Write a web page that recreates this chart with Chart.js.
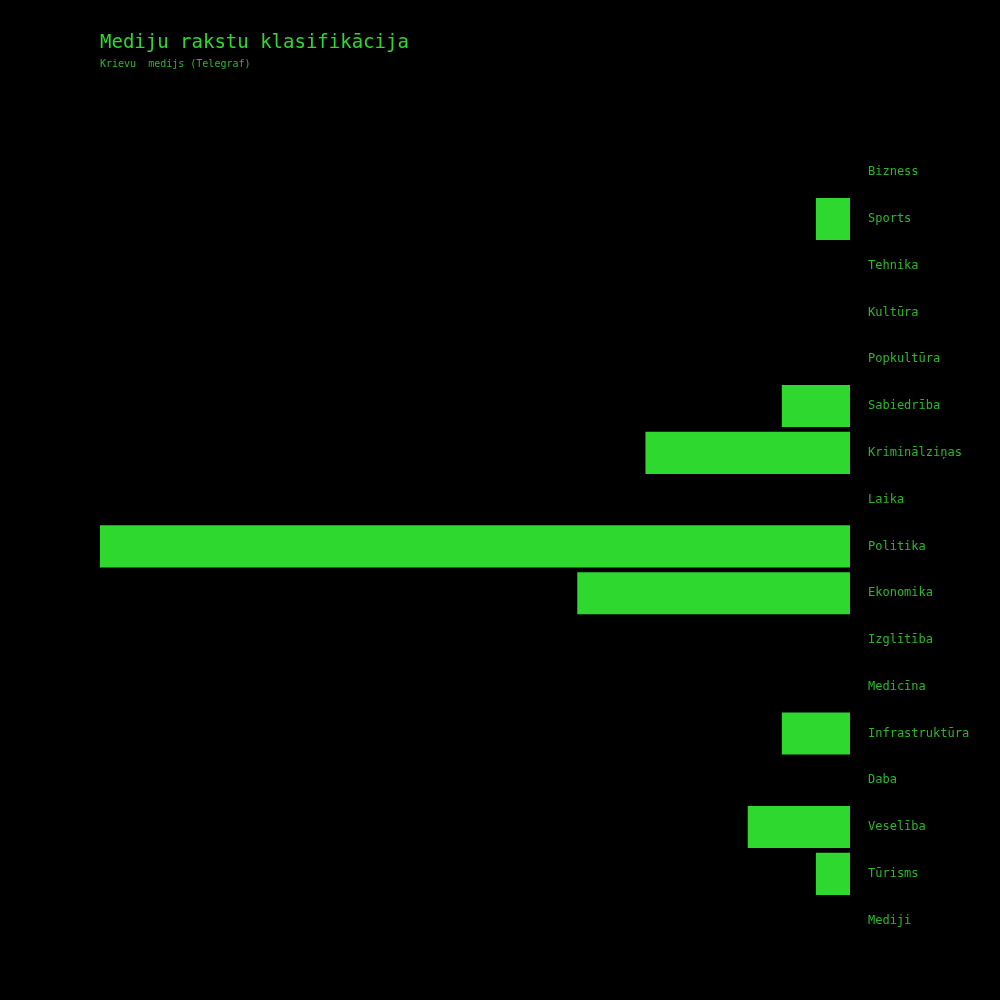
<!DOCTYPE html>
<html><head><meta charset="utf-8">
<script src="https://cdn.jsdelivr.net/npm/chart.js@4"></script>
<style>html,body{margin:0;background:#000}#wrap{width:1000px;height:1000px}</style>
</head><body><div id="wrap"><canvas id="c"></canvas></div>
<script>
const categories = ["Bizness","Sports","Tehnika","Kultūra","Popkultūra","Sabiedrība","Kriminālziņas","Laika","Politika","Ekonomika","Izglītība","Medicīna","Infrastruktūra","Daba","Veselība","Tūrisms","Mediji"];
const counts = [0,1,0,0,0,2,6,0,22,8,0,0,2,0,3,1,0];

const green = '#2fd82f';
const font = "'DejaVu Sans Mono', monospace";

new Chart(document.getElementById('c'), {
  type: 'bar',
  data: { labels: categories, datasets: [{ data: counts, backgroundColor: green, barPercentage: 0.9, categoryPercentage: 1 }] },
  options: {
    indexAxis: 'y',
    responsive: true, maintainAspectRatio: false, animation: false,
    layout: { padding: { left: 100, top: 32, bottom: 56, right: 0 } },
    plugins: {
      legend: { display: false },
      tooltip: { enabled: false },
      title: { display: true, text: 'Mediju rakstu klasifikācija', align: 'start', color: green,
        font: { family: font, size: 19, weight: 'normal' }, padding: { top: 0, bottom: 0 } },
      subtitle: { display: true, text: 'Krievu  medijs (Telegraf)', align: 'start', color: '#2ab82a',
        font: { family: font, size: 10 }, padding: { top: 4, bottom: 78 } }
    },
    scales: {
      x: { reverse: true, min: 0, max: 22, display: false },
      y: { position: 'right', grid: { display: false }, border: { display: false },
        afterFit: s => { s.width = 150; },
        ticks: { color: '#2ab82a', padding: 10, font: { family: font, size: 12 } } }
    }
  }
});
</script></body></html>
